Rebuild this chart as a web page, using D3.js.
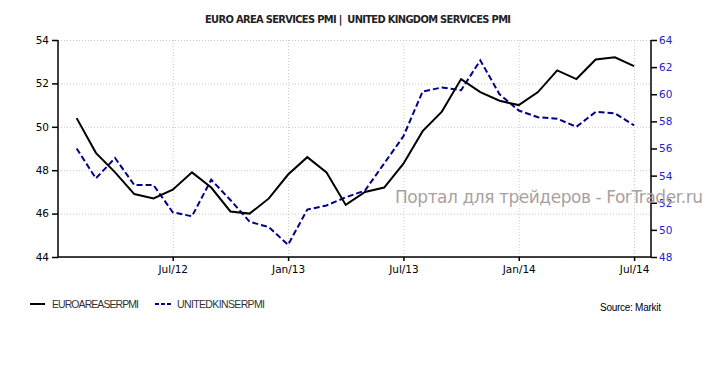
<!DOCTYPE html>
<html>
<head>
<meta charset="utf-8" />
<title>Euro Area / UK Services PMI</title>
<style>
body { margin: 0; background: #fff; }
#graph { width: 710px; height: 372px; }
.grid line { stroke: #c8c8c8; stroke-dasharray: 1 2; }
.grid .domain { display: none; }
.axis text { font-family: "DejaVu Sans", Tahoma, sans-serif; font-size: 10.5px; }
.axis .domain, .axis .tick line { stroke: #000; stroke-width: 1.5; }
.title { white-space: pre; }
</style>
</head>
<body>
<div id="graph"></div>
<script src="https://cdnjs.cloudflare.com/ajax/libs/d3/7.8.5/d3.min.js"></script>
<script>
// months from Feb 2012 to Jul 2014
var months = ["Feb/12","Mar/12","Apr/12","May/12","Jun/12","Jul/12","Aug/12","Sep/12","Oct/12","Nov/12","Dec/12",
              "Jan/13","Feb/13","Mar/13","Apr/13","May/13","Jun/13","Jul/13","Aug/13","Sep/13","Oct/13","Nov/13","Dec/13",
              "Jan/14","Feb/14","Mar/14","Apr/14","May/14","Jun/14","Jul/14"]
var euroArea = [50.4,48.8,47.9,46.9,46.7,47.1,47.9,47.2,46.1,46.0,46.7,47.8,48.6,47.9,46.4,47.0,47.2,48.3,49.8,50.7,52.2,51.6,51.2,51.0,51.6,52.6,52.2,53.1,53.2,52.8]
var unitedKingdom = [56.0,53.8,55.3,53.3,53.3,51.3,51.0,53.7,52.2,50.6,50.2,48.9,51.5,51.8,52.4,52.9,54.9,56.9,60.2,60.5,60.3,62.5,60.0,58.8,58.3,58.2,57.6,58.7,58.6,57.7]
var xTickLabels = ["Jul/12","Jan/13","Jul/13","Jan/14","Jul/14"]
var leftTicks = [44,46,48,50,52,54]
var rightTicks = [48,50,52,54,56,58,60,62,64]

!(function(){
    "use strict"

    var width = 710, height = 372
    var margin = {top:40, left:58, bottom:115, right:59}
    var chartWidth = width - margin.left - margin.right
    var chartHeight = height - margin.top - margin.bottom

    var svg = d3.select("#graph").append("svg").attr("width", width).attr("height", height)

    var xScale = d3.scaleLinear().domain([-0.97, 29.88]).range([0, chartWidth])
    var yLeft = d3.scaleLinear().domain([44, 54]).range([chartHeight, 0])
    var yRight = d3.scaleLinear().domain([48, 64]).range([chartHeight, 0])
    var tickIdx = xTickLabels.map(function(l){ return months.indexOf(l) })

    var chart = svg.append("g").attr("transform", "translate("+[margin.left, margin.top]+")")

    // gridlines
    chart.append("g").attr("class", "grid")
        .call(d3.axisLeft(yLeft).tickValues(leftTicks).tickSize(-chartWidth).tickFormat(""))
    chart.append("g").attr("class", "grid")
        .call(d3.axisBottom(xScale).tickValues(tickIdx).tickSize(chartHeight).tickFormat(""))

    // watermark
    svg.append("text")
        .attr("x", 395).attr("y", 203)
        .attr("textLength", 308)
        .attr("font-family", "'DejaVu Sans', sans-serif").attr("font-size", 17)
        .attr("fill", "#ab9f9f")
        .text("Портал для трейдеров - ForTrader.ru")

    // lines
    var lineEuro = d3.line().x(function(d,i){ return xScale(i) }).y(function(d){ return yLeft(d) })
    var lineUk = d3.line().x(function(d,i){ return xScale(i) }).y(function(d){ return yRight(d) })

    chart.append("path").datum(unitedKingdom)
        .attr("fill", "none").attr("stroke", "#000088").attr("stroke-width", 2)
        .attr("stroke-dasharray", "6 3")
        .attr("d", lineUk)
    chart.append("path").datum(euroArea)
        .attr("fill", "none").attr("stroke", "#000").attr("stroke-width", 2)
        .attr("d", lineEuro)

    // axes
    var axL = chart.append("g").attr("class", "axis")
        .call(d3.axisLeft(yLeft).tickValues(leftTicks).tickSize(6).tickPadding(3))
    axL.selectAll("text").attr("fill", "#000")

    var axR = chart.append("g").attr("class", "axis")
        .attr("transform", "translate("+[chartWidth, 0]+")")
        .call(d3.axisRight(yRight).tickValues(rightTicks).tickSize(6).tickPadding(2))
    axR.selectAll("text").attr("fill", "#2424c4")

    var axB = chart.append("g").attr("class", "axis")
        .attr("transform", "translate("+[0, chartHeight]+")")
        .call(d3.axisBottom(xScale).tickValues(tickIdx).tickSize(4).tickPadding(5)
            .tickFormat(function(d,i){ return xTickLabels[i] }))
    axB.selectAll("text").attr("fill", "#000").attr("font-family", "'Liberation Sans', Arial, sans-serif").attr("font-size", 11)
    axL.select(".domain").attr("d", "M0,0V"+chartHeight)
    axR.select(".domain").attr("d", "M0,0V"+chartHeight)
    axB.select(".domain").attr("d", "M0,0H"+chartWidth)

    // title
    svg.append("text").attr("class", "title")
        .attr("x", 358).attr("y", 23)
        .attr("text-anchor", "middle")
        .attr("textLength", 306)
        .attr("font-family", "'DejaVu Sans Condensed', 'DejaVu Sans', sans-serif")
        .attr("font-size", 11).attr("font-weight", 600).attr("fill", "#222")
        .text("EURO AREA SERVICES PMI |  UNITED KINGDOM SERVICES PMI")

    // legend
    var legend = svg.append("g").attr("font-family", "'Liberation Sans', Arial, sans-serif").attr("font-size", 10.5).attr("fill", "#333")
    legend.append("line").attr("x1", 30).attr("x2", 45).attr("y1", 304).attr("y2", 304)
        .attr("stroke", "#000").attr("stroke-width", 2)
    legend.append("text").attr("x", 52).attr("y", 308).attr("textLength", 87).text("EUROAREASERPMI")
    legend.append("line").attr("x1", 155).attr("x2", 172).attr("y1", 304).attr("y2", 304)
        .attr("stroke", "#000088").attr("stroke-width", 2).attr("stroke-dasharray", "4 2")
    legend.append("text").attr("x", 177).attr("y", 308).attr("textLength", 88).text("UNITEDKINSERPMI")

    svg.append("text").attr("x", 600).attr("y", 311)
        .attr("font-family", "'Liberation Sans', Arial, sans-serif").attr("font-size", 10)
        .attr("textLength", 61).attr("fill", "#000")
        .text("Source: Markit")
}());
</script>
</body>
</html>
